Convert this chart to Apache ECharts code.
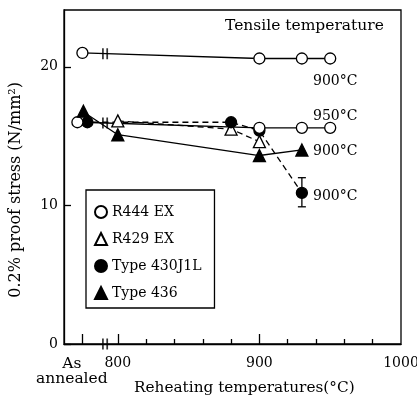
<!DOCTYPE html>
<html>
<head>
<meta charset="utf-8">
<script src="https://cdn.jsdelivr.net/npm/echarts@6/dist/echarts.min.js"></script>
<style>
  html, body { margin: 0; padding: 0; background: #fff; }
  #chart { width: 417px; height: 402px; }
</style>
</head>
<body>
<div id="chart"></div>
<script>
// "As annealed" specimens sit on the temperature axis left of the break
const AS_ANNEALED = 775;
const xTickLabels = [800, 900, 1000];
const xMajorTicks = [775, 800, 900];
const xMinorTicks = [820, 840, 860, 880, 920, 940, 960, 980];
const yTickLabels = [0, 10, 20];

// [reheating temperature, 0.2% proof stress]
const r444Tensile900 = [[775, 21.0], [900, 20.6], [930, 20.6], [950, 20.6]];
const r444Tensile950 = [[775, 16.0], [900, 15.6], [930, 15.6], [950, 15.6]];
const r429Tensile950 = [[800, 16.1], [880, 15.5], [900, 14.6]];
const t430j1lTensile900 = [[775, 16.0], [880, 16.0], [900, 15.4], [930, 10.9]];
const t430j1lSpread = [[930, 9.9, 12.0]];
const t436Tensile900 = [[775, 16.8], [800, 15.1], [900, 13.6], [930, 14.0]];

// axis-break marks on the lines that cross the gap and on the axis itself
const breakMarks = [[791, 20.95], [791, 15.95], [791, 0]];

const FONT = 'DejaVu Serif';
const INK = '#000';
const LW = 1.3;

function seriesOf(name, data, symbol, filled, dashed, aaOffset) {
  return {
    type: 'line',
    name: name,
    data: data.map(function (p) {
      const item = { value: p };
      if (p[0] === AS_ANNEALED && aaOffset) item.symbolOffset = [aaOffset, 0];
      return item;
    }),
    symbol: symbol,
    symbolSize: symbol === 'triangle' ? 12 : 11,
    showAllSymbol: true,
    lineStyle: { color: INK, width: LW, type: dashed ? [6, 4] : 'solid' },
    itemStyle: { color: filled ? INK : '#fff', borderColor: INK, borderWidth: LW },
    emphasis: { disabled: true },
    animation: false
  };
}

const chart = echarts.init(document.getElementById('chart'), null, { renderer: 'canvas' });

const textStyle = { fontFamily: FONT, fontSize: 14, color: INK };

function font(size) { return size + 'px "' + FONT + '"'; }

function note(text, x, y, size) {
  return {
    type: 'text',
    left: x, top: y - 6,
    style: { text: text, font: font(size || 14), fill: INK }
  };
}

chart.setOption({
  animation: false,
  backgroundColor: '#fff',
  grid: {
    left: 64, right: 16, top: 10, bottom: 58,
    show: true, borderColor: INK, borderWidth: LW,
    outerBoundsMode: 'none'
  },
  xAxis: [
    {
      type: 'value', min: 762, max: 1000, position: 'bottom',
      axisLine: { lineStyle: { color: INK, width: LW } },
      axisTick: { inside: true, length: 10, customValues: xMajorTicks, lineStyle: { color: INK, width: LW } },
      axisLabel: Object.assign({
        customValues: xTickLabels, margin: 12,
        formatter: function (v) { return String(v); }
      }, textStyle),
      splitLine: { show: false }
    },
    {
      type: 'value', min: 762, max: 1000, position: 'bottom',
      axisLine: { show: false },
      axisTick: { inside: true, length: 5, customValues: xMinorTicks, lineStyle: { color: INK, width: LW } },
      axisLabel: { show: false },
      splitLine: { show: false }
    }
  ],
  yAxis: {
    type: 'value', min: 0, max: 24.1,
    axisLine: { lineStyle: { color: INK, width: LW } },
    axisTick: { inside: true, length: 7, customValues: yTickLabels, lineStyle: { color: INK, width: LW } },
    axisLabel: Object.assign({ customValues: yTickLabels, margin: 6 }, textStyle),
    splitLine: { show: false }
  },
  legend: {
    orient: 'vertical',
    left: 86, top: 190,
    itemWidth: 12, itemHeight: 12, itemGap: 13,
    padding: [15, 13, 8, 8],
    borderColor: INK, borderWidth: LW,
    textStyle: textStyle,
    selectedMode: false,
    data: [
      { name: 'R444 EX', icon: 'circle' },
      { name: 'R429 EX', icon: 'triangle' },
      { name: 'Type 430J1L', icon: 'circle' },
      { name: 'Type 436', icon: 'triangle' }
    ]
  },
  series: [
    seriesOf('R429 EX', r429Tensile950, 'triangle', false, true),
    seriesOf('Type 430J1L', t430j1lTensile900, 'circle', true, true, 5),
    seriesOf('R444 EX', r444Tensile900, 'circle', false, false),
    seriesOf('R444 EX', r444Tensile950, 'circle', false, false, -5),
    seriesOf('Type 436', t436Tensile900, 'triangle', true, false, 1),
    {
      type: 'custom',
      name: 'spread',
      data: t430j1lSpread,
      encode: { x: 0, y: [1, 2] },
      renderItem: function (params, api) {
        const x = api.value(0);
        const lo = api.coord([x, api.value(1)]);
        const hi = api.coord([x, api.value(2)]);
        const w = 4;
        const st = { stroke: INK, lineWidth: LW };
        return {
          type: 'group',
          children: [
            { type: 'line', shape: { x1: lo[0], y1: lo[1], x2: hi[0], y2: hi[1] }, style: st },
            { type: 'line', shape: { x1: lo[0] - w, y1: lo[1], x2: lo[0] + w, y2: lo[1] }, style: st },
            { type: 'line', shape: { x1: hi[0] - w, y1: hi[1], x2: hi[0] + w, y2: hi[1] }, style: st }
          ]
        };
      },
      z: 1,
      animation: false
    },
    {
      type: 'scatter',
      name: 'break',
      data: breakMarks,
      symbol: 'path://M0 0H2V10H0ZM5 0H7V10H5Z',
      symbolSize: [6, 11],
      itemStyle: { color: INK },
      clip: false,
      z: 5,
      emphasis: { disabled: true },
      animation: false
    }
  ],
  graphic: [
    note('Tensile temperature', 225, 24, 15.5),
    note('900°C', 313, 80),
    note('950°C', 313, 115),
    note('900°C', 313, 150),
    note('900°C', 313, 195),
    {
      type: 'text', left: 36, top: 356,
      style: { text: 'As\nannealed', font: font(15.5), fill: INK, textAlign: 'center', lineHeight: 15 }
    },
    {
      type: 'text', left: 134, top: 381,
      style: { text: 'Reheating temperatures(°C)', font: font(15.3), fill: INK }
    },
    {
      type: 'text', left: 8, top: 82, rotation: Math.PI / 2,
      style: { text: '0.2% proof stress (N/mm²)', font: font(16), fill: INK }
    }
  ]
});
</script>
</body>
</html>
